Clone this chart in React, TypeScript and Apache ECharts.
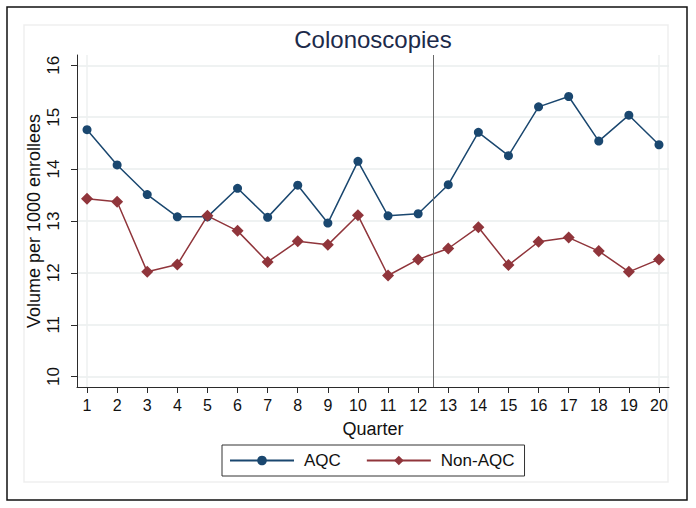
import React, { useEffect, useRef } from "react";
import * as echarts from "echarts";

const quarters = [1, 2, 3, 4, 5, 6, 7, 8, 9, 10, 11, 12, 13, 14, 15, 16, 17, 18, 19, 20];
const aqc = [14.76, 14.08, 13.51, 13.08, 13.08, 13.63, 13.07, 13.69, 12.96, 14.15, 13.10, 13.14, 13.70, 14.71, 14.26, 15.20, 15.40, 14.54, 15.04, 14.47];
const nonAqc = [13.43, 13.37, 12.02, 12.16, 13.10, 12.81, 12.21, 12.61, 12.54, 13.11, 11.95, 12.26, 12.47, 12.88, 12.15, 12.60, 12.68, 12.42, 12.02, 12.26];
const yTicks = [10, 11, 12, 13, 14, 15, 16];
const breakQuarter = 12.5;
const titleText = "Colonoscopies";
const yTitle = "Volume per 1000 enrollees";
const xTitle = "Quarter";

const FONT = "'Liberation Sans', Arial, sans-serif";
const AXIS_COLOR = "#2b2b2b";

export default function App() {
  const ref = useRef<HTMLDivElement>(null);
  useEffect(() => {
    if (!ref.current) return;
    const chart = echarts.init(ref.current, undefined, { renderer: "svg" });
    chart.setOption({
      animation: false,
      backgroundColor: "#ffffff",
      textStyle: { fontFamily: FONT },
      graphic: [
        {
          type: "rect",
          shape: { x: 7, y: 7, width: 680, height: 493 },
          style: { fill: "none", stroke: "#111111", lineWidth: 1.5 },
          silent: true,
        },
        {
          type: "rect",
          shape: { x: 24, y: 25, width: 644, height: 457 },
          style: { fill: "none", stroke: "#efefef", lineWidth: 1.5 },
          silent: true,
        },
        {
          type: "text",
          x: 373,
          y: 39,
          style: {
            text: titleText,
            fontSize: 24,
            fontFamily: FONT,
            fill: "#1c2a4a",
            align: "center",
            verticalAlign: "middle",
          },
        },
      ],
      grid: { left: 77, right: 27, top: 55, bottom: 121 },
      legend: {
        left: 222,
        top: 445,
        orient: "horizontal",
        padding: [6, 10, 6, 7],
        itemWidth: 64,
        itemHeight: 12,
        itemGap: 25,
        borderColor: "#333333",
        borderWidth: 1,
        textStyle: { fontSize: 17, color: "#111111", fontFamily: FONT, lineHeight: 19, padding: [0, 0, 0, 5] },
        data: ["AQC", "Non-AQC"],
      },
      xAxis: [
        {
          type: "value",
          min: 0.667,
          max: 20.333,
          name: xTitle,
          nameLocation: "middle",
          nameGap: 33,
          nameMoveOverlap: false,
          nameTextStyle: { fontSize: 18, color: "#111111", fontFamily: FONT },
          axisLine: { show: true, lineStyle: { color: AXIS_COLOR, width: 1 } },
          axisTick: { show: true, length: 6, lineStyle: { color: AXIS_COLOR }, customValues: quarters },
          axisLabel: { customValues: quarters, fontSize: 16, color: "#111111", margin: 10, fontFamily: FONT },
          splitLine: { show: false },
        },
        {
          type: "value",
          min: 0.667,
          max: 20.333,
          position: "bottom",
          axisLine: { show: false },
          axisTick: { show: false, customValues: [quarters[0], quarters[quarters.length - 1]] },
          axisLabel: { show: false, customValues: [quarters[0], quarters[quarters.length - 1]] },
          splitLine: { show: true, lineStyle: { color: "#eef0f0", width: 1.5 } },
        },
      ],
      yAxis: {
        type: "value",
        min: 9.8,
        max: 16.2,
        name: yTitle,
        nameLocation: "middle",
        nameRotate: 90,
        nameGap: 34,
        nameMoveOverlap: false,
        nameTextStyle: { fontSize: 18, color: "#111111", fontFamily: FONT },
        axisLine: { show: true, lineStyle: { color: AXIS_COLOR, width: 1 } },
        axisTick: { show: true, length: 6, lineStyle: { color: AXIS_COLOR }, customValues: yTicks },
        axisLabel: { customValues: yTicks, rotate: 90, fontSize: 17, color: "#111111", margin: 15, fontFamily: FONT },
        splitLine: { show: true, lineStyle: { color: "#eaeeee", width: 1.5 } },
      },
      series: [
        {
          name: "AQC",
          type: "line",
          xAxisIndex: 0,
          data: quarters.map((q, i) => [q, aqc[i]]),
          symbol: "circle",
          symbolSize: 9,
          lineStyle: { color: "#1a476f", width: 1.5 },
          itemStyle: { color: "#1a476f" },
          z: 3,
          markLine: {
            silent: true,
            symbol: ["none", "none"],
            label: { show: false },
            lineStyle: { color: "#6a6a6a", width: 1, type: "solid" },
            data: [{ xAxis: breakQuarter }],
          },
        },
        {
          name: "Non-AQC",
          type: "line",
          xAxisIndex: 0,
          data: quarters.map((q, i) => [q, nonAqc[i]]),
          symbol: "diamond",
          symbolSize: 12,
          lineStyle: { color: "#90353b", width: 1.5 },
          itemStyle: { color: "#90353b" },
          z: 3,
        },
      ],
    });
    return () => chart.dispose();
  }, []);
  return <div ref={ref} style={{ width: 696, height: 508, position: "absolute", left: 0, top: 0 }} />;
}
